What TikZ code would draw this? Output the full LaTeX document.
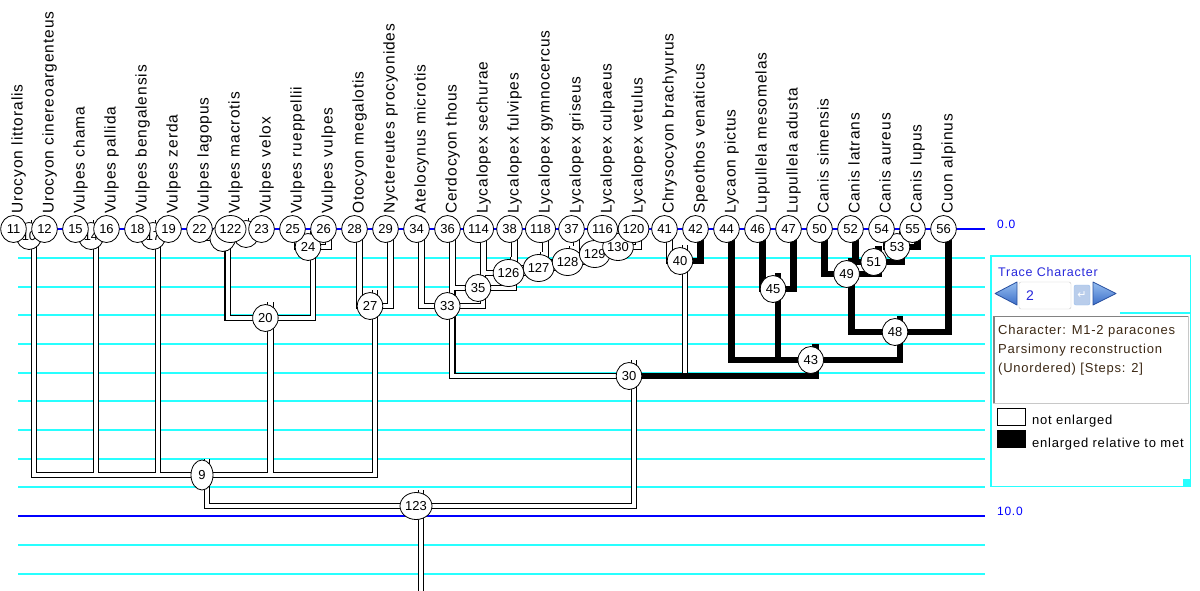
\documentclass[tikz,border=0pt]{standalone}
\usepackage{fontspec}
\setmainfont{Liberation Sans}
\newfontfamily\labfont[LetterSpace=6]{Liberation Sans}
\newfontfamily\uifont[LetterSpace=6]{Liberation Sans}
\newfontfamily\symfont{DejaVu Sans}
\usetikzlibrary{shapes.geometric}
\definecolor{gridcyan}{RGB}{40,255,255}
\definecolor{gridblue}{RGB}{0,0,255}
\definecolor{txtdark}{RGB}{60,40,20}
\definecolor{titleblue}{RGB}{40,40,220}
\definecolor{arrowtop}{RGB}{150,190,240}
\definecolor{arrowbot}{RGB}{60,110,200}
\definecolor{arrowedge}{RGB}{40,80,160}
\definecolor{fieldgray}{RGB}{200,200,200}
\definecolor{darkgray2}{RGB}{130,130,130}
\definecolor{enterfill}{RGB}{185,205,235}
\begin{document}
\begin{tikzpicture}[x=1pt,y=-1pt,
  nc/.style={ellipse,draw=black,line width=0.8pt,fill=white,inner sep=0pt,
    minimum width=25.5pt,minimum height=27pt,font=\fontsize{13}{13}\selectfont},
  taxon/.style={rotate=90,anchor=base west,inner sep=0pt,
    font=\labfont\fontsize{15.5}{15.5}\selectfont},
  brout/.style={line width=6.6pt,black},
  brin/.style={line width=4.4pt,white},
  brblk/.style={line width=6.6pt,black},
  gridc/.style={line width=1.6pt,gridcyan},
  gridb/.style={line width=1.6pt,gridblue},
  uitext/.style={anchor=base west,inner sep=0pt,font=\uifont\fontsize{13}{13}\selectfont},
  arrowbtn/.style={draw=arrowedge,line width=0.8pt,line join=round,top color=arrowtop,bottom color=arrowbot}
]
\useasboundingbox (0,0) rectangle (1200,590);
\fill[white] (0,0) rectangle (1200,590);

% ---------- grid ----------
\foreach \yy in {258,287,315,344,373,401,430,459,487,545,574} {
  \draw[gridc] (18,\yy) -- (985,\yy);
}
\draw[gridb] (18,229) -- (985,229);
\draw[gridb] (18,516) -- (985,516);
\node[anchor=base west,inner sep=0pt,gridblue,font=\uifont\fontsize{12}{12}\selectfont] (s0) at (997,228) {0.0};
\node[anchor=base west,inner sep=0pt,gridblue,font=\uifont\fontsize{12}{12}\selectfont] (s10) at (997,515) {10.0};

% ---------- coordinates ----------
\foreach \nm/\ii in {11/0,12/1,15/2,16/3,18/4,19/5,22/6,122/7,23/8,25/9,26/10,28/11,29/12,
  34/13,36/14,114/15,38/16,118/17,37/18,116/19,120/20,41/21,42/22,44/23,46/24,47/25,
  50/26,52/27,54/28,55/29,56/30} {
  \coordinate (c\nm) at ({13.5+31*\ii},229);
  \coordinate (b\nm) at ({18.5+31*\ii},229);
  \coordinate (t\nm) at ({18.5+31*\ii},229);
}
\foreach \nm/\cx/\by in {10/29/236,14/91/236,17/153/236,21/222.75/238,121/246/234,
  24/308/247,20/265.4/318,27/370/306,9/202/475,130/618/247,129/594.75/254,
  128/567.6/262,127/538.6/268,126/508.5/273,35/478/288,33/447.25/306,40/680/261,
  45/773/289,53/897/247,51/873.75/262,49/846.6/274,48/895/332,43/810.75/360,
  30/629/376,123/416/506} {
  \coordinate (c\nm) at (\cx,\by);
  \coordinate (b\nm) at (\cx+5,\by);
  \coordinate (t\nm) at (\cx+5,\by-16);
}
\coordinate (rootend) at (421,592);

% ---------- branches ----------
\newcommand\whitetree[1]{%
\draw[#1] (t11) |- (b10) (t12) |- (b10) (t10) |- (b9)
  (t15) |- (b14) (t16) |- (b14) (t14) |- (b9)
  (t18) |- (b17) (t19) |- (b17) (t17) |- (b9)
  (t22) |- (b21) (t122) |- (b121) (t23) |- (b121) (t121) |- (b21) (t21) |- (b20)
  (t25) |- (b24) (t26) |- (b24) (t24) |- (b20) (t20) |- (b9)
  (t28) |- (b27) (t29) |- (b27) (t27) |- (b9)
  (t9) |- (b123)
  (t34) |- (b33) (t36) |- (b35) (t114) |- (b126) (t38) |- (b127) (t118) |- (b128)
  (t37) |- (b129) (t116) |- (b130) (t120) |- (b130) (t130) |- (b129) (t129) |- (b128)
  (t128) |- (b127) (t127) |- (b126) (t126) |- (b35) (t35) |- (b33) (t33) |- (b30)
  (t41) |- (b40) (t40) |- (b30)
  (t30) |- (b123)
  (t123) -- (rootend);}
\whitetree{brout}
\whitetree{brin}
\draw[brblk] (t42) |- (b40) (t44) |- (b43) (t46) |- (b45) (t47) |- (b45) (t45) |- (b43)
  (t50) |- (b49) (t52) |- (b51) (t54) |- (b53) (t55) |- (b53) (t53) |- (b51)
  (t51) |- (b49) (t49) |- (b48) (t56) |- (b48) (t48) |- (b43) (t43) |- (b30);

% ---------- taxon labels ----------
\foreach \nm/\ii/\lab in {11/0/Urocyon littoralis,12/1/Urocyon cinereoargenteus,
  15/2/Vulpes chama,16/3/Vulpes pallida,18/4/Vulpes bengalensis,19/5/Vulpes zerda,
  22/6/Vulpes lagopus,122/7/Vulpes macrotis,23/8/Vulpes velox,25/9/Vulpes rueppellii,
  26/10/Vulpes vulpes,28/11/Otocyon megalotis,29/12/Nyctereutes procyonides,
  34/13/Atelocynus microtis,36/14/Cerdocyon thous,114/15/Lycalopex sechurae,
  38/16/Lycalopex fulvipes,118/17/Lycalopex gymnocercus,37/18/Lycalopex griseus,
  116/19/Lycalopex culpaeus,120/20/Lycalopex vetulus,41/21/Chrysocyon brachyurus,
  42/22/Speothos venaticus,44/23/Lycaon pictus,46/24/Lupullela mesomelas,
  47/25/Lupullela adusta,50/26/Canis simensis,52/27/Canis latrans,
  54/28/Canis aureus,55/29/Canis lupus,56/30/Cuon alpinus} {
  \node[taxon] (l\nm) at ({22.5+31*\ii},214) {\lab};
}

% ---------- node circles (internal, pre-order) ----------
\node[nc,minimum width=32pt] (n123) at (c123) {123};
\node[nc,minimum width=22pt,minimum height=30pt] (n9) at (c9) {9};
\node[nc] (n10) at (c10) {10};
\node[nc] (n14) at (c14) {14};
\node[nc] (n17) at (c17) {17};
\node[nc] (n20) at (c20) {20};
\node[nc] (n21) at (c21) {};
\node[nc] (n121) at (c121) {};
\node[nc] (n24) at (c24) {24};
\node[nc] (n27) at (c27) {27};
\node[nc] (n30) at (c30) {30};
\node[nc] (n33) at (c33) {33};
\node[nc] (n35) at (c35) {35};
\node[nc,minimum width=30pt] (n126) at (c126) {126};
\node[nc,minimum width=30pt] (n127) at (c127) {127};
\node[nc,minimum width=30pt] (n128) at (c128) {128};
\node[nc,minimum width=30pt] (n129) at (c129) {129};
\node[nc,minimum width=30pt] (n130) at (c130) {130};
\node[nc] (n40) at (c40) {40};
\node[nc] (n43) at (c43) {43};
\node[nc] (n45) at (c45) {45};
\node[nc] (n48) at (c48) {48};
\node[nc] (n49) at (c49) {49};
\node[nc] (n51) at (c51) {51};
\node[nc] (n53) at (c53) {53};
% tips
\foreach \nm/\w in {11/25.5,12/25.5,15/25.5,16/25.5,18/25.5,19/25.5,22/25.5,122/31,
  23/25.5,25/25.5,26/25.5,28/25.5,29/25.5,34/25.5,36/25.5,114/30,38/25.5,118/30,
  37/25.5,116/30,120/30,41/25.5,42/25.5,44/25.5,46/25.5,47/25.5,50/25.5,52/25.5,
  54/25.5,55/25.5,56/25.5} {
  \node[nc,minimum width=\w pt] (n\nm) at (c\nm) {\nm};
}

% ---------- legend panel ----------
\draw[gridcyan,line width=1.2pt] (991,256) rectangle (1190.5,486.5);
\node[anchor=base west,inner sep=0pt,titleblue,font=\labfont\fontsize{12.5}{12.5}\selectfont] (title) at (998,276) {Trace Character};
\draw[arrowbtn] (995,293.5) -- (1017,282) -- (1017,305) -- cycle;
\node[draw=fieldgray,fill=white,rounded corners=2pt,minimum width=52pt,minimum height=27pt,inner sep=0pt] (field) at (1045,295.5) {};
\node[anchor=base west,inner sep=0pt,titleblue,font=\fontsize{14}{14}\selectfont] (fieldval) at (1026,300.5) {2};
\node[draw=arrowtop,fill=enterfill,rounded corners=2pt,minimum width=16pt,minimum height=20pt,inner sep=0pt,text=white,font=\symfont\fontsize{11}{11}\selectfont] (enter) at (1082,295) {↵};
\draw[arrowbtn] (1093,282) -- (1116,293.5) -- (1093,305) -- cycle;
\draw[gridcyan,line width=1.2pt] (1120,313) -- (1190.5,313);
\node[draw=fieldgray,fill=white,minimum width=195pt,minimum height=87pt,inner sep=0pt] (textarea) at (1090.5,359.5) {};
\draw[darkgray2,line width=2.5pt] (textarea.south west) ++(1.25,0) -- ++(0,-87);
\draw[darkgray2,line width=1.5pt] (textarea.north west) ++(0,0.75) -- ++(195,0);
\node[uitext,txtdark] (t1) at (998,334) {Character: M1-2 paracones};
\node[uitext,txtdark] (t2) at (998,353) {Parsimony reconstruction};
\node[uitext,txtdark] (t3) at (998,372) {(Unordered) [Steps: 2]};
\node[draw=black,fill=white,line width=0.8pt,minimum width=28pt,minimum height=16.5pt,inner sep=0pt] (sw1) at (1011.5,416.75) {};
\node[fill=black,minimum width=29pt,minimum height=18pt,inner sep=0pt] (sw2) at (1011.5,439) {};
\node[uitext,black] (lg1) at (1032,424) {not enlarged};
\node[uitext,black] (lg2) at (1032,447) {enlarged relative to met};
\fill[gridcyan] (1183,479) rectangle (1191,487);
\end{tikzpicture}
\end{document}
